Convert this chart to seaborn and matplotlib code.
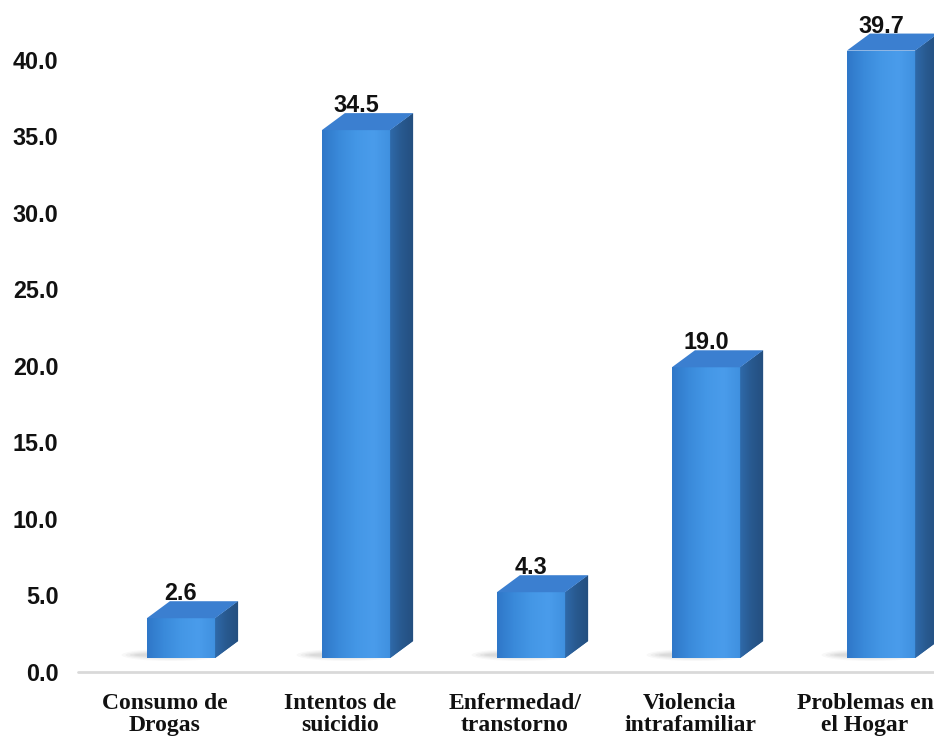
import matplotlib
matplotlib.use("Agg")
import matplotlib.pyplot as plt
import matplotlib.transforms as mtransforms
from matplotlib.patches import Polygon, Ellipse
from matplotlib.colors import LinearSegmentedColormap
import numpy as np
import pandas as pd
import seaborn as sns

# Data
categories = ["Consumo de\nDrogas", "Intentos de\nsuicidio", "Enfermedad/\ntranstorno",
              "Violencia\nintrafamiliar", "Problemas en\nel Hogar"]
values = [2.6, 34.5, 4.3, 19.0, 39.7]
yticks = [0, 5, 10, 15, 20, 25, 30, 35, 40]

FRONT = "#3c8ddc"
SIDE = "#2b5f97"
TOP = "#3b7fd0"

front_cmap = LinearSegmentedColormap.from_list(
    "front", ["#2f77c8", "#3a8ada", "#4497e6", "#4a9ceb", "#3f90df"])
side_cmap = LinearSegmentedColormap.from_list("side", ["#2f6aaa", "#28598f", "#244f80"])

sns.set_theme(style="white")
plt.rcParams["font.family"] = ["Liberation Sans", "DejaVu Sans"]

W, H, DPI = 934, 740, 100
fig = plt.figure(figsize=(W / DPI, H / DPI), dpi=DPI)
ax = fig.add_axes([78 / W, 68 / H, 1 - 78 / W, 672 / H])

df = pd.DataFrame({"categoria": categories, "valor": values})
sns.barplot(data=df, x="categoria", y="valor", color=FRONT, saturation=1,
            width=0.39, edgecolor="none", linewidth=0, ax=ax, zorder=3)

ax.set_xlim(-0.497, 4.394)
ax.set_ylim(0, 43.92)
ax.set_yticks(yticks)
ax.set_yticklabels([f"{t:.1f}" for t in yticks], fontsize=16.8, fontweight="bold",
                   color="#111111")
ax.tick_params(axis="y", length=0, pad=14)
ax.tick_params(axis="x", length=0, pad=15)
for lab in ax.get_xticklabels():
    lab.set_family(["Liberation Serif", "DejaVu Serif"])
    lab.set_fontsize(17)
    lab.set_fontweight("bold")
    lab.set_color("#111111")
    lab.set_linespacing(1.05)
ax.set_xlabel("")
ax.set_ylabel("")
for s in ax.spines.values():
    s.set_visible(False)
ax.axhline(0, color="#d9d9d9", lw=2, zorder=1, clip_on=False)

# 3D look: shift front faces, add side and top faces in pixel space
shift = np.array([16.0, 14.0])
depth = np.array([23.0, 17.0])
shift_tr = mtransforms.ScaledTranslation(shift[0] / DPI, shift[1] / DPI, fig.dpi_scale_trans)
grad = np.linspace(0, 1, 256).reshape(1, -1)

fig.canvas.draw()
for p, v in zip(ax.patches, values):
    p.set_transform(ax.transData + shift_tr)
    x0, x1 = p.get_x(), p.get_x() + p.get_width()
    h = p.get_height()
    bl = ax.transData.transform((x0, 0)) + shift
    br = ax.transData.transform((x1, 0)) + shift
    tl = ax.transData.transform((x0, h)) + shift
    tr = ax.transData.transform((x1, h)) + shift

    # shaded front face
    im = ax.imshow(grad, cmap=front_cmap, aspect="auto", extent=(x0, x1, 0, h),
                   transform=ax.transData + shift_tr, zorder=3.1, interpolation="bicubic")
    im.set_clip_path(p)

    # soft floor shadow
    for k, a in enumerate([0.04, 0.05, 0.06, 0.07]):
        e = Ellipse(((bl[0] + br[0]) / 2 - 10, bl[1] + 3),
                    width=(br[0] - bl[0]) * (1.45 - 0.12 * k),
                    height=12 - 2.5 * k, color="#555555", alpha=a,
                    transform=None, zorder=2, lw=0)
        ax.add_patch(e)

    side = Polygon([br, tr, tr + depth, br + depth], closed=True, transform=None,
                   facecolor=SIDE, edgecolor="none", zorder=3)
    ax.add_patch(side)
    ext = (br[0], br[0] + depth[0], br[1], tr[1] + depth[1])
    im2 = ax.imshow(grad, cmap=side_cmap, aspect="auto", extent=ext, transform=None,
                    zorder=3.1, interpolation="bicubic")
    im2.set_clip_path(side)

    top = Polygon([tl, tr, tr + depth, tl + depth], closed=True, transform=None,
                  facecolor=TOP, edgecolor="none", zorder=3.2)
    ax.add_patch(top)

    cx = p.get_x() + p.get_width() / 2
    ax.annotate(f"{v:.1f}", xy=(cx, h), xytext=(shift[0], shift[1] + depth[1] + 1),
                textcoords="offset pixels", ha="center", va="baseline",
                fontsize=16.8, fontweight="bold", color="#111111", zorder=5,
                annotation_clip=False)

ax.set_xlim(-0.497, 4.394)
ax.set_ylim(0, 43.92)

fig.savefig("out.png", dpi=DPI)
